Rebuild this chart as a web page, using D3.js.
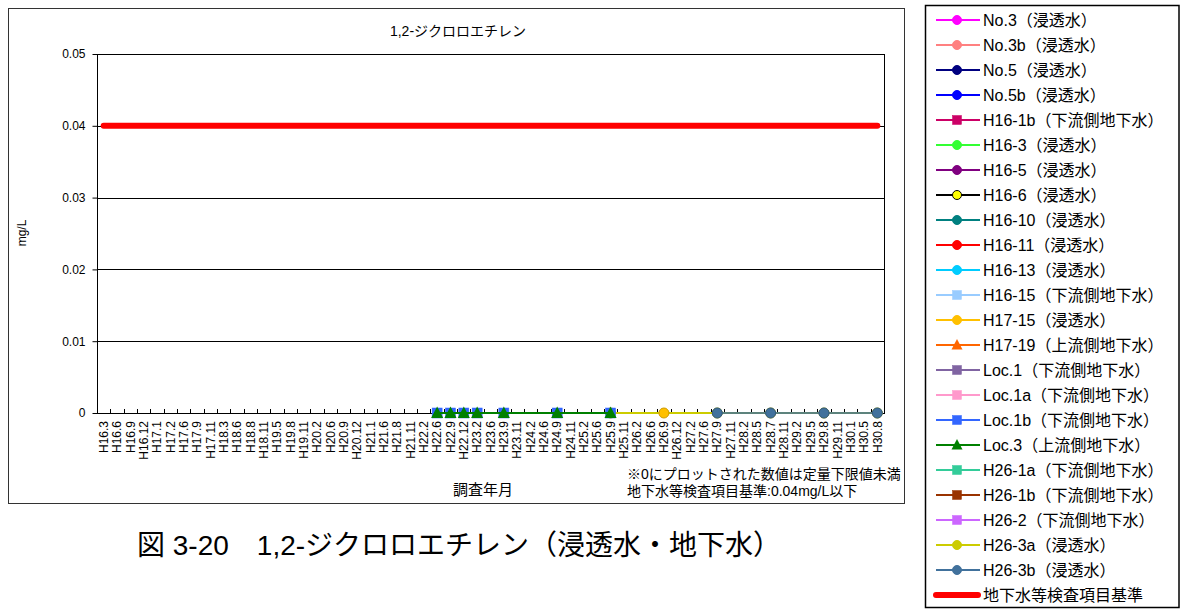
<!DOCTYPE html>
<html><head><meta charset="utf-8">
<script src="https://cdn.jsdelivr.net/npm/d3@7"></script>
<style>
body{margin:0;background:#fff}
svg{display:block}
text{font-family:"Liberation Sans","Noto Sans CJK JP",sans-serif;fill:#000}
</style>
</head><body>
<svg id="chart" width="1186" height="610"></svg>
<script>
// ---------- data ----------
const categories = ["H16.3","H16.6","H16.9","H16.12","H17.1","H17.2","H17.6","H17.9","H17.11","H18.3","H18.6","H18.8","H18.11","H19.5","H19.8","H19.11","H20.2","H20.6","H20.9","H20.12","H21.1","H21.6","H21.8","H21.11","H22.2","H22.6","H22.9","H22.12","H23.2","H23.6","H23.9","H23.11","H24.2","H24.6","H24.9","H24.11","H25.2","H25.6","H25.9","H25.11","H26.2","H26.6","H26.9","H26.12","H27.2","H27.6","H27.9","H27.11","H28.2","H28.5","H28.7","H28.11","H29.2","H29.5","H29.8","H29.11","H30.1","H30.5","H30.8"];
const yTicks = [0, 0.01, 0.02, 0.03, 0.04, 0.05];
const seriesNames = ["No.3（浸透水）","No.3b（浸透水）","No.5（浸透水）","No.5b（浸透水）","H16-1b（下流側地下水）","H16-3（浸透水）","H16-5（浸透水）","H16-6（浸透水）","H16-10（浸透水）","H16-11（浸透水）","H16-13（浸透水）","H16-15（下流側地下水）","H17-15（浸透水）","H17-19（上流側地下水）","Loc.1（下流側地下水）","Loc.1a（下流側地下水）","Loc.1b（下流側地下水）","Loc.3（上流側地下水）","H26-1a（下流側地下水）","H26-1b（下流側地下水）","H26-2（下流側地下水）","H26-3a（浸透水）","H26-3b（浸透水）"];
// measured dates and values (0 = below quantification limit); series not listed have no plotted values
const loc1bDates = ["H22.6","H22.9","H22.12","H23.2","H23.9","H24.9","H25.9"];
const loc1bValues = [0,0,0,0,0,0,0];
const loc3Dates = ["H22.6","H22.9","H22.12","H23.2","H23.9","H24.9","H25.9"];
const loc3Values = [0,0,0,0,0,0,0];
const h1715Dates = ["H26.9"];
const h1715Values = [0];
const h263aDates = ["H25.9","H27.9","H28.7","H29.8","H30.8"];
const h263aValues = [0,0,0,0,0];
const h263bDates = ["H27.9","H28.7","H29.8","H30.8"];
const h263bValues = [0,0,0,0];
const standardName = "地下水等検査項目基準";
const standardValue = 0.04;

// ---------- styles ----------
const seriesColors = ["#FF00FF","#FF8080","#000080","#0000FF","#CC0066","#33FF33","#800080","#000000","#008080","#FF0000","#00CCFF","#99CCFF","#FFC000","#FF6600","#8064A2","#FF99CC","#3366FF","#008000","#33CC99","#993300","#CC66FF","#CCCC00","#41719C"];
const markerFill = ["#FF00FF","#FF8080","#000080","#0000FF","#CC0066","#33FF33","#800080","#FFFF00","#008080","#FF0000","#00CCFF","#99CCFF","#FFC000","#FF6600","#8064A2","#FF99CC","#3366FF","#008000","#33CC99","#993300","#CC66FF","#CCCC00","#41719C"];
const markerShape = ["c","c","c","c","s","c","c","c","c","c","c","s","c","t","s","s","s","t","s","s","s","c","c"];

const dataByName = {
  "Loc.1b（下流側地下水）": [loc1bDates, loc1bValues],
  "Loc.3（上流側地下水）": [loc3Dates, loc3Values],
  "H17-15（浸透水）": [h1715Dates, h1715Values],
  "H26-3a（浸透水）": [h263aDates, h263aValues],
  "H26-3b（浸透水）": [h263bDates, h263bValues]
};
const series = seriesNames.map((n, i) => {
  const d = dataByName[n] || [[], []];
  return {name: n, color: seriesColors[i], fill: markerFill[i], shape: markerShape[i],
          pts: d[0].map((c, j) => ({c, v: d[1][j]}))};
});

// ---------- drawing ----------
const svg = d3.select("#chart");
svg.append("rect").attr("x",0).attr("y",0).attr("width",1186).attr("height",610).attr("fill","#fff");

// chart area border
svg.append("rect").attr("x",8.5).attr("y",8.5).attr("width",896).attr("height",495)
  .attr("fill","none").attr("stroke","#333").attr("stroke-width",1);

const L = 97, R = 884, T = 54, B = 413;
const x = d3.scaleBand().domain(categories).range([L, R]).paddingInner(0).paddingOuter(0);
const cx = c => x(c) + x.bandwidth() / 2;
const y = d3.scaleLinear().domain([0, 0.05]).range([B, T]);

// title
svg.append("text").attr("x", 458).attr("y", 31).attr("dy", "0.35em").attr("text-anchor","middle")
  .attr("font-size", 14).text("1,2-ジクロロエチレン");

// gridlines
svg.append("g").selectAll("line").data(yTicks).join("line")
  .attr("x1", L).attr("x2", R).attr("y1", d => Math.round(y(d)) + 0.5).attr("y2", d => Math.round(y(d)) + 0.5)
  .attr("stroke", "#000").attr("stroke-width", 1);
svg.append("line").attr("x1", R + 0.5).attr("x2", R + 0.5).attr("y1", T).attr("y2", B + 1)
  .attr("stroke", "#000");

// y axis
const yAxis = svg.append("g").attr("transform", `translate(${L + 0.5},0)`)
  .call(d3.axisLeft(y).tickValues(yTicks).tickFormat(d => d === 0 ? "0" : d.toFixed(2)).tickSize(5).tickPadding(7));
yAxis.selectAll("path,line").attr("stroke", "#000");
yAxis.selectAll("text").attr("font-size", 12).attr("font-family", "Liberation Sans, sans-serif");
yAxis.select(".domain").attr("d", `M0,${T}V${B + 0.5}`);

// x axis
const xAxis = svg.append("g").attr("transform", `translate(0,${B + 0.5})`)
  .call(d3.axisBottom(x).tickSize(0).tickFormat(""));
xAxis.select(".domain").attr("stroke", "#000").attr("d", `M${L},0H${R + 1}`);
const bounds = categories.map(c => x(c)).concat([R]);
svg.append("g").selectAll("line").data(bounds).join("line")
  .attr("x1", d => Math.round(d) + 0.5).attr("x2", d => Math.round(d) + 0.5)
  .attr("y1", B - 4).attr("y2", B).attr("stroke", "#000");
svg.append("g").selectAll("text").data(categories).join("text")
  .attr("transform", c => `translate(${cx(c)},${B + 8}) rotate(-90)`)
  .attr("text-anchor", "end").attr("dy", "0.35em").attr("font-size", 12)
  .text(c => c);

// y title
svg.append("text").attr("transform", "translate(22,233) rotate(-90)").attr("text-anchor", "middle")
  .attr("dy", "0.35em").attr("font-size", 12).text("mg/L");
// x title
svg.append("text").attr("x", 483).attr("y", 490).attr("dy", "0.35em").attr("text-anchor", "middle")
  .attr("font-size", 15).text("調査年月");
// notes
svg.append("text").attr("x", 627).attr("y", 474).attr("dy", "0.35em").attr("font-size", 14)
  .text("※0にプロットされた数値は定量下限値未満");
svg.append("text").attr("x", 627).attr("y", 491).attr("dy", "0.35em").attr("font-size", 14)
  .text("地下水等検査項目基準:0.04mg/L以下");

// series
const line = d3.line().x(d => cx(d.c)).y(d => y(d.v));
function marker(g, shape, fill, stroke, px, py, size) {
  if (shape === "c") {
    g.append("circle").attr("cx", px).attr("cy", py).attr("r", size / 2)
      .attr("fill", fill).attr("stroke", stroke).attr("stroke-width", 1);
  } else if (shape === "s") {
    g.append("rect").attr("x", px - size / 2).attr("y", py - size / 2).attr("width", size).attr("height", size)
      .attr("fill", fill).attr("stroke", stroke).attr("stroke-width", 0.5);
  } else {
    const h = size;
    g.append("path").attr("d", `M${px},${py - h * 0.6}L${px + h * 0.55},${py + h * 0.45}L${px - h * 0.55},${py + h * 0.45}Z`)
      .attr("fill", fill);
  }
}
const order = ["H26-3a（浸透水）", "H26-3b（浸透水）"];
const drawSeries = series.slice().sort((a, b) => (order.includes(b.name) ? 1 : 0) - (order.includes(a.name) ? 1 : 0));
const plotG = svg.append("g");
drawSeries.forEach(s => {
  if (!s.pts.length) return;
  const g = plotG.append("g");
  g.append("path").attr("d", line(s.pts)).attr("fill", "none").attr("stroke", s.color).attr("stroke-width", 2)
    .attr("stroke-opacity", s.name.startsWith("H26-3b") ? 0.8 : 1);
  s.pts.forEach(p => {
    const st = s.shape === "c" ? d3.color(s.fill).darker(0.6) : s.fill;
    marker(g, s.shape, s.fill, s.name.startsWith("H16-6") ? "#000" : st, cx(p.c), y(p.v), s.shape === "t" ? 11 : 10);
  });
});

// standard line
svg.append("path").attr("d", line(categories.map(c => ({c, v: standardValue}))))
  .attr("fill", "none").attr("stroke", "#FF0000").attr("stroke-width", 6).attr("stroke-linecap", "round");

// caption
svg.append("text").attr("x", 137).attr("y", 545).attr("dy", "0.35em").attr("font-size", 28)
  .text("図 3-20　1,2-ジクロロエチレン（浸透水・地下水）");

// legend
svg.append("rect").attr("x", 925.5).attr("y", 5.5).attr("width", 253.5).attr("height", 602)
  .attr("fill", "#fff").attr("stroke", "#000").attr("stroke-width", 1.5);
const lg = svg.append("g");
series.forEach((s, i) => {
  const ry = 20 + i * 25;
  lg.append("line").attr("x1", 936).attr("x2", 980).attr("y1", ry).attr("y2", ry)
    .attr("stroke", s.color).attr("stroke-width", 2);
  marker(lg, s.shape, s.fill, s.name.startsWith("H16-6") ? "#000" : s.fill, 957, ry, s.shape === "t" ? 10 : 9);
  lg.append("text").attr("x", 983).attr("y", ry).attr("dy", "0.35em").attr("font-size", 16).text(s.name);
});
{
  const ry = 20 + series.length * 25;
  lg.append("line").attr("x1", 936).attr("x2", 978).attr("y1", ry).attr("y2", ry)
    .attr("stroke", "#FF0000").attr("stroke-width", 6).attr("stroke-linecap", "round");
  lg.append("text").attr("x", 983).attr("y", ry).attr("dy", "0.35em").attr("font-size", 16).text(standardName);
}
</script>
</body></html>
